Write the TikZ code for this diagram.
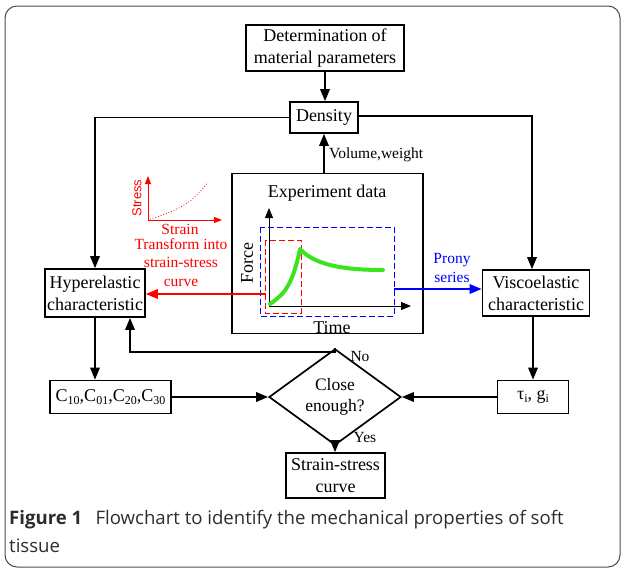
\documentclass[tikz,border=0pt]{standalone}
\usepackage{fontspec}
\setmainfont{Liberation Serif}
\newfontfamily\capfont{Open Sans}
\newfontfamily\arialfont{Liberation Sans}
\usetikzlibrary{arrows.meta,shapes.geometric,calc}
\definecolor{grn}{RGB}{60,228,30}
\definecolor{capgray}{RGB}{45,45,45}
\begin{document}
\begin{tikzpicture}[x=1pt,y=-1pt,
  box/.style={draw, line width=1.7pt, inner sep=0pt, align=center, font=\fontsize{18}{22}\selectfont},
  arr/.style={line width=1.7pt, -{Triangle[length=12pt,width=9.5pt]}},
  lbl/.style={inner sep=0pt, font=\fontsize{15.5}{18}\selectfont},
  redtxt/.style={inner sep=0pt, text=red, font=\fontsize{15.5}{18}\selectfont},
  bluetxt/.style={inner sep=0pt, text=blue, font=\fontsize{15.5}{18}\selectfont}]
\useasboundingbox (0,0) rectangle (624,571);
\draw[line width=1pt, color=black!70, rounded corners=12pt] (5,6) rectangle (620,567);

% boxes
\node[box, minimum width=158pt, minimum height=46pt] (det) at (325,48) {Determination of\\material parameters};
\node[box, minimum width=68pt, minimum height=31pt] (dens) at (324,117.5) {Density};
\node[box, minimum width=191pt, minimum height=160pt] (exp) at (327.5,253.5) {};
\node[box, minimum width=100pt, minimum height=48pt] (hyper) at (95,293) {Hyperelastic\\characteristic};
\node[box, minimum width=107pt, minimum height=46pt] (visco) at (536,293) {Viscoelastic\\characteristic};
\node[box, minimum width=121pt, minimum height=33pt] (cbox) at (110.5,397)
  {C\raisebox{-0.35ex}{\fontsize{12}{12}\selectfont 10},C\raisebox{-0.35ex}{\fontsize{12}{12}\selectfont 01},C\raisebox{-0.35ex}{\fontsize{12}{12}\selectfont 20},C\raisebox{-0.35ex}{\fontsize{12}{12}\selectfont 30}};
\node[box, minimum width=71pt, minimum height=33pt] (tau) at (533,397)
  {τ\raisebox{-0.35ex}{\fontsize{12}{12}\selectfont i}, g\raisebox{-0.35ex}{\fontsize{12}{12}\selectfont i}};
\node[box, diamond, minimum width=132pt, minimum height=66pt, inner sep=0pt, font=\fontsize{17.5}{21}\selectfont] (dia) at (335,397) {Close\\enough?};
\node[box, minimum width=99pt, minimum height=45pt] (ss) at (335.5,475.5) {Strain-stress\\curve};

% experiment data contents
\node[inner sep=0pt, font=\fontsize{18}{22}\selectfont] (exptitle) at (327,193) {Experiment data};
\coordinate (org) at (269,306);
\coordinate (ytip) at (269,208);
\coordinate (xtip) at (411,306);
\draw[line width=1pt, -{Triangle[length=10pt,width=8pt]}] (org) -- (ytip);
\draw[line width=1pt, -{Triangle[length=10pt,width=8pt]}] (org) -- (xtip);
\node[inner sep=0pt, rotate=90, font=\fontsize{18}{22}\selectfont] (force) at (247,263) {Force};
\node[inner sep=0pt, font=\fontsize{18}{22}\selectfont] (time) at (332,327.5) {Time};
\draw[blue, line width=0.9pt, dash pattern=on 6pt off 3pt] (260,227) rectangle (394,316);
\draw[red, line width=0.9pt, dash pattern=on 6pt off 3pt] (265,240) rectangle (301,313);
\draw[grn, line width=4pt, line cap=round, line join=round] (270,304) .. controls (284,294) and (292,287) .. (300,249) .. controls (314,264) and (340,270) .. (383,270);

% red mini plot
\coordinate (sorg) at (148,220);
\coordinate (sy) at (148,176);
\coordinate (sx) at (222,220);
\draw[red, line width=0.8pt, -{Triangle[length=8pt,width=6pt]}] (sorg) -- (sy);
\draw[red, line width=0.8pt, -{Triangle[length=8pt,width=6pt]}] (sorg) -- (sx);
\draw[red, dotted, line width=0.8pt] (150,219) .. controls (178,211) and (195,201) .. (207,183);
\node[inner sep=0pt, rotate=90, text=red, font=\arialfont\fontsize{13}{15}\selectfont] (stress) at (137,198) {Stress};
\node[redtxt] (strain) at (180,229) {Strain};
\node[redtxt, align=center, font=\fontsize{15.5}{18.5}\selectfont] (transf) at (181,262.5) {Transform into\\strain-stress\\curve};

% blue label
\node[bluetxt, align=center, font=\fontsize{15.5}{19}\selectfont] (prony) at (452,267.5) {Prony\\series};

% connectors
\draw[arr] (det.south) -- (det.south |- dens.north);
\draw[arr] (exp.north -| dens.south) -- (dens.south);
\node[lbl, anchor=west] (vw) at (329,155) {Volume,weight};
\draw[arr] (dens.west) -| (hyper.north);
\draw[arr] ([yshift=1.5pt]dens.east) -| ([xshift=-4pt]visco.north);
\draw[arr] (hyper.south) -- (hyper.south |- cbox.north);
\draw[arr] (visco.south -| tau.north) -- (tau.north);
\draw[arr] (cbox.east) -- (dia.west);
\draw[arr] (tau.west) -- (dia.east);
\draw[arr] (dia.south) -- (dia.south |- ss.north);
\coordinate (fb) at (130,352);
\draw[arr] (dia.north) |- (fb) -- (fb |- hyper.south);
\node[lbl] (no) at (360,356) {No};
\node[lbl] (yes) at (365,437) {Yes};
\coordinate (rstart) at (266,294);
\draw[red, line width=1.7pt, -{Triangle[length=12pt,width=9.5pt]}] (rstart) -- (rstart -| hyper.east);
\coordinate (bstart) at (394,289);
\draw[blue, line width=1.7pt, -{Triangle[length=12pt,width=9.5pt]}] (bstart) -- (bstart -| visco.west);

% caption
\node[inner sep=0pt, anchor=west, text=capgray, font=\capfont\fontsize{18.6}{22}\selectfont] (cap1) at (9,520) {\textbf{Figure 1}\hspace{0.45em} Flowchart to identify the mechanical properties of soft};
\node[inner sep=0pt, anchor=west, text=capgray, font=\capfont\fontsize{18.6}{22}\selectfont] (cap2) at (9,546) {tissue};
\end{tikzpicture}
\end{document}
